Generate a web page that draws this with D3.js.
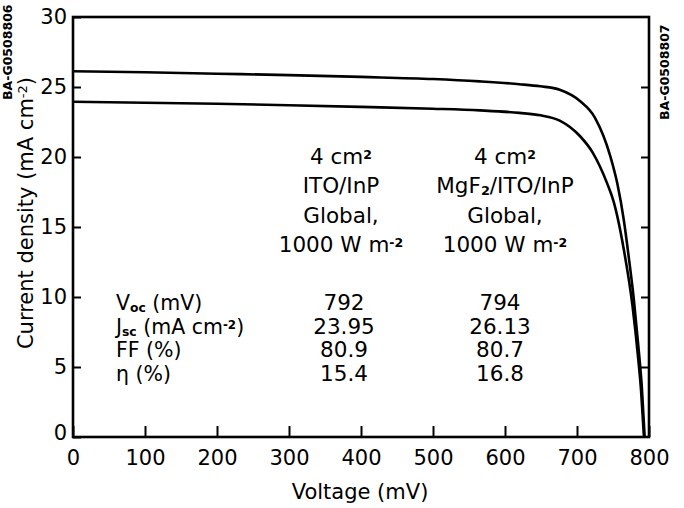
<!DOCTYPE html>
<html><head><meta charset="utf-8">
<script src="https://cdn.jsdelivr.net/npm/d3@7"></script>
<style>body{margin:0;background:#fff}svg{display:block}text{font-family:"DejaVu Sans",sans-serif;fill:#000}</style>
</head><body>
<svg id="c" width="684" height="508"></svg>
<script>
// Data
const voltageTicks = [0,100,200,300,400,500,600,700,800];
const currentTicks = [0,5,10,15,20,25,30];
const mgf2Voltage = [0,100,200,300,400,500,565,620,649,676,704,725,746,756,765,772,779,785,790,794];
const mgf2Current = [26.13,26.05,25.95,25.85,25.72,25.57,25.4,25.2,25.05,24.8,24.0,22.8,20.1,18.1,15.5,12.8,9.8,6.6,3.6,0];
const itoVoltage = [0,100,200,300,400,500,565,620,649,676,704,722,742,751,765,777,785,789,793];
const itoCurrent = [23.95,23.88,23.8,23.7,23.58,23.45,23.33,23.15,22.98,22.6,21.5,20.3,18.1,16.8,13.4,9.4,5.6,3.3,0];
const rowLabels = ["V|oc| (mV)","J|sc| (mA cm^-2^)","FF (%)","η (%)"];
const itoValues = ["792","23.95","80.9","15.4"];
const mgf2Values = ["794","26.13","80.7","16.8"];
const itoHeader = ["4 cm^2^","ITO/InP","Global,","1000 W m^-2^"];
const mgf2Header = ["4 cm^2^","MgF|2|/ITO/InP","Global,","1000 W m^-2^"];

const svg = d3.select("#c");
const L=73, T=17, R=649, B=437;
const x = d3.scaleLinear().domain([0,800]).range([L,R]);
const y = d3.scaleLinear().domain([0,30]).range([B,T]);

// frame
svg.append("rect").attr("x",L).attr("y",T).attr("width",R-L).attr("height",B-T)
  .attr("fill","none").attr("stroke","#000").attr("stroke-width",2.6);

// axes
const xAxis = d3.axisBottom(x).tickValues(voltageTicks).tickSize(-11).tickPadding(13).tickFormat(d3.format("d"));
const gx = svg.append("g").attr("transform",`translate(0,${B})`).call(xAxis);
const yAxis = d3.axisLeft(y).tickValues(currentTicks).tickSize(-8).tickPadding(6).tickFormat(d3.format("d"));
const gy = svg.append("g").attr("transform",`translate(${L},0)`).call(yAxis);
const yAxisR = d3.axisRight(y).tickValues(currentTicks.slice(1,-1)).tickSize(-8).tickFormat("");
const gyr = svg.append("g").attr("transform",`translate(${R},0)`).call(yAxisR);
[gx,gy,gyr].forEach(g=>{
  g.select(".domain").remove();
  g.selectAll(".tick line").attr("stroke","#000").attr("stroke-width",2);
  g.selectAll(".tick text").attr("font-size",21).attr("font-family","DejaVu Sans").attr("fill","#000");
});
gx.selectAll(".tick text").attr("dy","0.71em");
gy.selectAll(".tick").filter(d=>d===0).select("text").attr("dy","0.1em");

// axis titles
svg.append("text").attr("x",360).attr("y",499).attr("text-anchor","middle").attr("font-size",21).text("Voltage (mV)");
const yl = svg.append("text").attr("transform",`translate(33,213) rotate(-90)`).attr("text-anchor","middle").attr("font-size",21);
yl.append("tspan").text("Current density (mA cm");
yl.append("tspan").attr("font-size",13).attr("baseline-shift","45%").text("-2");
yl.append("tspan").text(")");

// curves
const line = d3.line().x(d=>x(d[0])).y(d=>y(d[1])).curve(d3.curveMonotoneX);
[[mgf2Voltage,mgf2Current],[itoVoltage,itoCurrent]].forEach(([v,c])=>{
  svg.append("path").datum(v.map((d,i)=>[d,c[i]])).attr("d",line)
    .attr("fill","none").attr("stroke","#000").attr("stroke-width",2.6);
});

// rich text helper: |sub| ^sup^
function rich(sel, str, size){
  const parts = str.split(/(\|[^|]*\||\^[^^]*\^)/).filter(s=>s.length);
  parts.forEach(p=>{
    if(p[0]==="|") sel.append("tspan").attr("font-size",size*0.6).attr("font-weight","bold").attr("baseline-shift","-15%").text(p.slice(1,-1));
    else if(p[0]==="^") sel.append("tspan").attr("font-size",size*0.58).attr("font-weight","bold").attr("baseline-shift","40%").text(p.slice(1,-1));
    else sel.append("tspan").text(p);
  });
}
const hs=21.5, rs=20.5;
itoHeader.forEach((t,i)=>rich(svg.append("text").attr("x",341).attr("y",164+i*29.3).attr("text-anchor","middle").attr("font-size",hs),t,hs));
mgf2Header.forEach((t,i)=>rich(svg.append("text").attr("x",505).attr("y",164+i*29.3).attr("text-anchor","middle").attr("font-size",hs),t,hs));
rowLabels.forEach((t,i)=>rich(svg.append("text").attr("x",116).attr("y",310+i*23.5).attr("font-size",rs),t,rs));
itoValues.forEach((t,i)=>svg.append("text").attr("x",344).attr("y",310+i*23.5).attr("text-anchor","middle").attr("font-size",hs).text(t));
mgf2Values.forEach((t,i)=>svg.append("text").attr("x",500).attr("y",310+i*23.5).attr("text-anchor","middle").attr("font-size",hs).text(t));

// scan codes
svg.append("text").attr("transform","translate(669,120) rotate(-90)").attr("font-size",12.5).attr("font-weight","bold").attr("font-family","Liberation Sans").text("BA-G0508807");
svg.append("text").attr("transform","translate(12,100) rotate(-90)").attr("font-size",12.5).attr("font-weight","bold").attr("font-family","Liberation Sans").text("BA-G0508806");
</script>
</body></html>
